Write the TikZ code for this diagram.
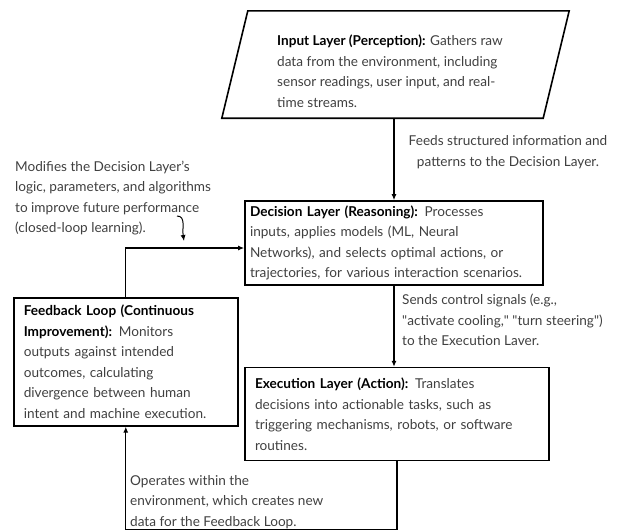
\documentclass[tikz,border=0pt]{standalone}
\usepackage{fontspec}
\setmainfont{Lato}
\usepackage{xcolor}
\usetikzlibrary{arrows.meta,positioning}
\definecolor{bodygray}{HTML}{404040}
\newcommand{\layertitle}[1]{\textbf{\color{black}#1}}

\begin{document}
\begin{tikzpicture}[
    x=1pt, y=-1pt,
    font=\fontsize{13.6}{20.5}\selectfont,
    layer/.style={draw, line width=1.6pt, align=left, text=bodygray, inner xsep=10pt},
    note/.style={align=left, text=bodygray, inner sep=0pt},
    flow/.style={line width=1.2pt, -{Latex[length=6pt,width=5pt]}}
]
\useasboundingbox (0,0) rectangle (618,531);

% input layer: slanted box drawn round a plain node
\node[inner sep=0pt, minimum width=321, minimum height=107] (input) at (395.5,64.5) {};
\draw[line width=1.6pt] ([xshift=13pt]input.north west) -- ([xshift=13pt]input.north east)
    -- ([xshift=-13pt]input.south east) -- ([xshift=-13pt]input.south west) -- cycle;
\node[note] (inputtext) at (390,71)
    {\layertitle{Input Layer (Perception):} Gathers raw\\
     data from the environment, including\\
     sensor readings, user input, and real-\\
     time streams.};

\node[layer, below=82pt of input, xshift=-1.5pt, inner xsep=5pt, minimum width=298, minimum height=84, text width=288] (decision)
    {\layertitle{Decision Layer (Reasoning):} Processes\\
     inputs, applies models (ML, Neural\\
     Networks), and selects optimal actions, or\\
     trajectories, for various interaction scenarios.};

\node[layer, below=81pt of decision, xshift=3pt, minimum width=304, minimum height=93, text width=284] (execution)
    {\layertitle{Execution Layer (Action):} Translates\\
     decisions into actionable tasks, such as\\
     triggering mechanisms, robots, or software\\
     routines.};

\node[layer, anchor=north west, minimum width=224, minimum height=128, text width=204] (feedback) at (13,297)
    {\layertitle{Feedback Loop (Continuous}\\
     \layertitle{Improvement):} Monitors\\
     outputs against intended\\
     outcomes, calculating\\
     divergence between human\\
     intent and machine execution.};

% notes on the connectors
\node[note, align=center] (feedsnote) at (508,152)
    {Feeds structured information and\\ patterns to the Decision Layer.};
\node[note, anchor=west] (sendsnote) at (402,320)
    {Sends control signals (e.g.,\\ \textquotedbl activate cooling,\textquotedbl\ \textquotedbl turn steering\textquotedbl)\\ to the Execution Laver.};
\node[note, anchor=west] (modifynote) at (15,198)
    {Modifies the Decision Layer's\\ logic, parameters, and algorithms\\ to improve future performance\\ (closed-loop learning).};
\node[note, anchor=west] (operatenote) at (130,502)
    {Operates within the\\ environment, which creates new\\ data for the Feedback Loop.};

\draw[flow] (input.south -| decision.north) -- (decision.north);
\draw[flow] (decision.south) -- (decision.south |- execution.north);
\draw[flow] (execution.south) -- ++(0,68) -| (feedback.south);
\draw[flow] (feedback.north) |- ([yshift=-5pt]decision.west);

\coordinate (curlstart) at (177,216);
\coordinate (curlend) at (184,241);
\draw[flow, line width=1pt] (curlstart) .. controls (186,216) and (182,228) .. (curlend);

\end{tikzpicture}
\end{document}
